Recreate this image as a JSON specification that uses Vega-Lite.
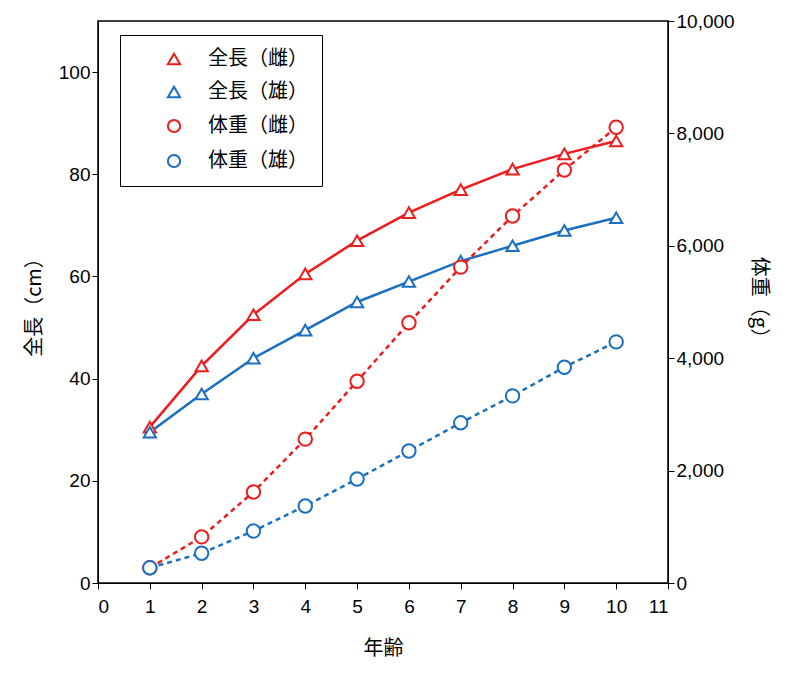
{
  "$schema": "https://vega.github.io/schema/vega-lite/v6.json",
  "width": 570,
  "height": 562,
  "padding": {"left": 24, "top": 12, "right": 10, "bottom": 10},
  "background": "white",
  "config": {
    "font": "Noto Sans CJK JP",
    "view": {"stroke": "black", "strokeWidth": 1.5},
    "axis": {"grid": false, "domainColor": "black", "tickColor": "black", "labelColor": "black", "titleColor": "black", "labelFontSize": 19, "titleFontSize": 20, "titleFontWeight": "normal", "labelFont": "Liberation Sans", "ticks": true, "tickSize": 6}
  },
  "data": {
    "values": [
      {"age": 1, "s": "全長（雌）", "k": "L", "v": 30.5},
      {"age": 2, "s": "全長（雌）", "k": "L", "v": 42.5},
      {"age": 3, "s": "全長（雌）", "k": "L", "v": 52.5},
      {"age": 4, "s": "全長（雌）", "k": "L", "v": 60.5},
      {"age": 5, "s": "全長（雌）", "k": "L", "v": 67},
      {"age": 6, "s": "全長（雌）", "k": "L", "v": 72.5},
      {"age": 7, "s": "全長（雌）", "k": "L", "v": 77},
      {"age": 8, "s": "全長（雌）", "k": "L", "v": 81},
      {"age": 9, "s": "全長（雌）", "k": "L", "v": 84},
      {"age": 10, "s": "全長（雌）", "k": "L", "v": 86.5},
      {"age": 1, "s": "全長（雄）", "k": "L", "v": 29.5},
      {"age": 2, "s": "全長（雄）", "k": "L", "v": 37},
      {"age": 3, "s": "全長（雄）", "k": "L", "v": 44},
      {"age": 4, "s": "全長（雄）", "k": "L", "v": 49.5},
      {"age": 5, "s": "全長（雄）", "k": "L", "v": 55},
      {"age": 6, "s": "全長（雄）", "k": "L", "v": 59},
      {"age": 7, "s": "全長（雄）", "k": "L", "v": 63},
      {"age": 8, "s": "全長（雄）", "k": "L", "v": 66},
      {"age": 9, "s": "全長（雄）", "k": "L", "v": 69},
      {"age": 10, "s": "全長（雄）", "k": "L", "v": 71.5},
      {"age": 1, "s": "体重（雌）", "k": "W", "v": 270},
      {"age": 2, "s": "体重（雌）", "k": "W", "v": 820},
      {"age": 3, "s": "体重（雌）", "k": "W", "v": 1620},
      {"age": 4, "s": "体重（雌）", "k": "W", "v": 2560},
      {"age": 5, "s": "体重（雌）", "k": "W", "v": 3590},
      {"age": 6, "s": "体重（雌）", "k": "W", "v": 4630},
      {"age": 7, "s": "体重（雌）", "k": "W", "v": 5620},
      {"age": 8, "s": "体重（雌）", "k": "W", "v": 6530},
      {"age": 9, "s": "体重（雌）", "k": "W", "v": 7350},
      {"age": 10, "s": "体重（雌）", "k": "W", "v": 8110},
      {"age": 1, "s": "体重（雄）", "k": "W", "v": 270},
      {"age": 2, "s": "体重（雄）", "k": "W", "v": 530},
      {"age": 3, "s": "体重（雄）", "k": "W", "v": 925},
      {"age": 4, "s": "体重（雄）", "k": "W", "v": 1370},
      {"age": 5, "s": "体重（雄）", "k": "W", "v": 1850},
      {"age": 6, "s": "体重（雄）", "k": "W", "v": 2350},
      {"age": 7, "s": "体重（雄）", "k": "W", "v": 2850},
      {"age": 8, "s": "体重（雄）", "k": "W", "v": 3330},
      {"age": 9, "s": "体重（雄）", "k": "W", "v": 3840},
      {"age": 10, "s": "体重（雄）", "k": "W", "v": 4290}
    ]
  },
  "encoding": {
    "x": {"field": "age", "type": "quantitative", "title": "年齢", "scale": {"domain": [0, 11], "nice": false}, "axis": {"values": [0,1,2,3,4,5,6,7,8,9,10,11], "labelPadding": 8, "titlePadding": 22}},
    "stroke": {"field": "s", "type": "nominal", "scale": {"domain": ["全長（雌）", "全長（雄）", "体重（雌）", "体重（雄）"], "range": ["#ee1c1c", "#1a6fc0", "#ee1c1c", "#1a6fc0"]},
      "legend": {"orient": "none", "legendX": 22, "legendY": 14, "title": null, "labelFontSize": 20, "labelFont": "Noto Sans CJK JP", "strokeColor": "black", "padding": 14, "symbolSize": 150, "symbolStrokeWidth": 2, "rowPadding": 13, "fillColor": "white", "labelOffset": 24, "symbolOffset": 30,
        "encode": {"symbols": {"update": {"fill": {"value": "white"}, "fillOpacity": {"value": 1}, "opacity": {"value": 1}}}}}},
    "shape": {"field": "s", "type": "nominal", "scale": {"domain": ["全長（雌）", "全長（雄）", "体重（雌）", "体重（雄）"], "range": ["triangle-up", "triangle-up", "circle", "circle"]}}
  },
  "layer": [
    {
      "transform": [{"filter": "datum.k == 'L'"}],
      "encoding": {"y": {"field": "v", "type": "quantitative", "title": "全長（cm）", "scale": {"domain": [0, 110], "nice": false}, "axis": {"values": [0, 20, 40, 60, 80, 100], "titlePadding": 14}}},
      "layer": [
        {"mark": {"type": "line", "strokeWidth": 2.5}},
        {"mark": {"type": "point", "filled": false, "fill": "white", "fillOpacity": 1, "size": 150, "strokeWidth": 2, "opacity": 1}}
      ]
    },
    {
      "transform": [{"filter": "datum.k == 'W'"}],
      "encoding": {"y": {"field": "v", "type": "quantitative", "title": "体重（g）", "scale": {"domain": [0, 10000], "nice": false}, "axis": {"orient": "right", "values": [0, 2000, 4000, 6000, 8000, 10000], "format": ",.0f", "titlePadding": 14}}},
      "layer": [
        {"mark": {"type": "line", "strokeWidth": 2.5, "strokeDash": [5, 4]}},
        {"mark": {"type": "point", "filled": false, "fill": "white", "fillOpacity": 1, "size": 180, "strokeWidth": 2, "opacity": 1}}
      ]
    }
  ],
  "resolve": {"scale": {"y": "independent"}}
}
